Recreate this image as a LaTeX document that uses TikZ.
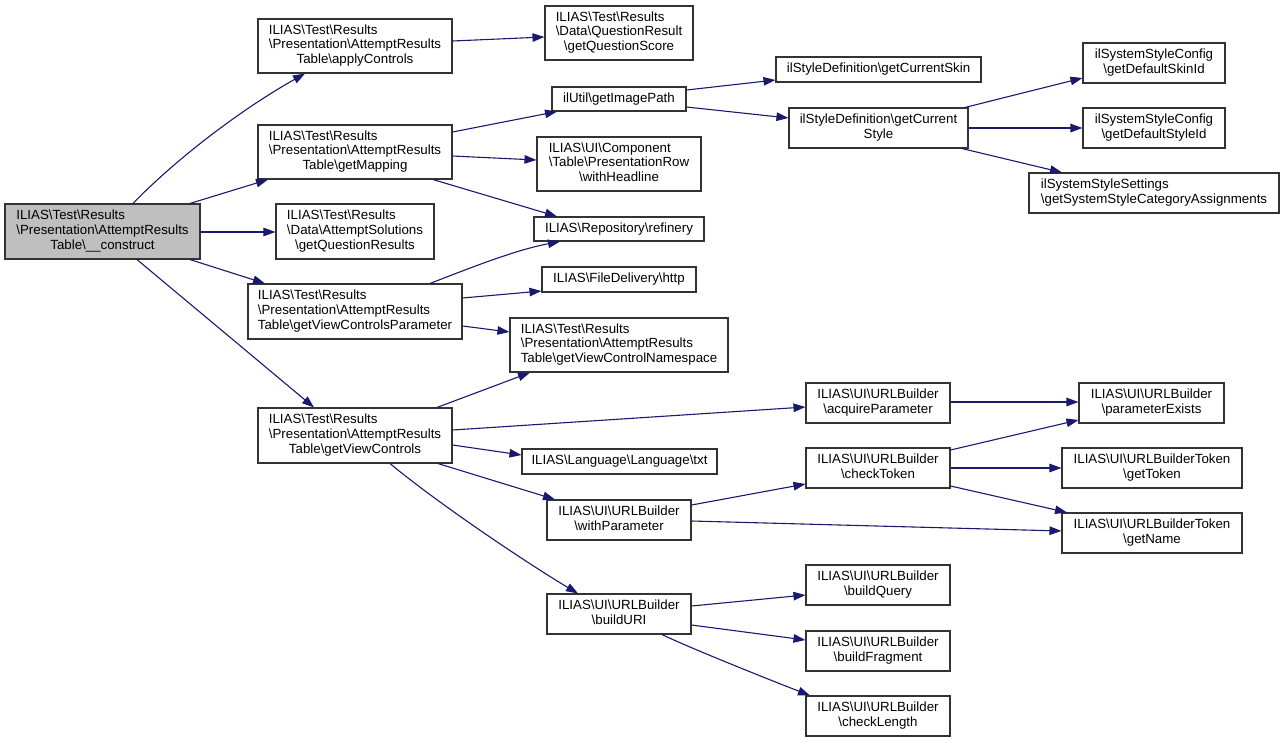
\documentclass[tikz,border=0pt]{standalone}
\usepackage{fontspec}
\setmainfont{Liberation Sans}
\usetikzlibrary{arrows.meta}
\definecolor{edgecol}{HTML}{191970}
\definecolor{boxcol}{HTML}{333333}
\definecolor{curfill}{HTML}{BFBFBF}
\newcommand\bs{\textbackslash}
\newcommand\lbl[2]{\begin{tabular}{@{}l@{}}#1\\\multicolumn{1}{@{}c@{}}{#2}\end{tabular}}
\renewcommand\arraystretch{1}
\begin{document}
\begin{tikzpicture}[x=1pt,y=-1pt,
  box/.style={draw=boxcol,line width=1.1pt,fill=white,inner sep=0pt,anchor=center,
    font=\fontsize{13.3}{14.8}\selectfont},
  e/.style={draw=edgecol,line width=1.1pt,-{Triangle[length=12pt,width=8.5pt]}}]
\useasboundingbox[fill=white] (0,0) rectangle (1281,742);
% column 0
\node[box,fill=curfill,minimum width=195pt,minimum height=55pt] (construct) at (102.5,231.5)
  {\lbl{ILIAS\bs Test\bs Results\\\bs Presentation\bs AttemptResults}{Table\bs\_\_construct}};
% column 1
\node[box,minimum width=194pt,minimum height=54pt] (applyControls) at (355,46)
  {\lbl{ILIAS\bs Test\bs Results\\\bs Presentation\bs AttemptResults}{Table\bs applyControls}};
\node[box,minimum width=194pt,minimum height=54pt] (getMapping) at (355,152)
  {\lbl{ILIAS\bs Test\bs Results\\\bs Presentation\bs AttemptResults}{Table\bs getMapping}};
\node[box,minimum width=158pt,minimum height=55pt] (getQuestionResults) at (355,231.5)
  {\lbl{ILIAS\bs Test\bs Results\\\bs Data\bs AttemptSolutions}{\bs getQuestionResults}};
\node[box,minimum width=214pt,minimum height=55pt] (getViewControlsParameter) at (355,311.5)
  {\lbl{ILIAS\bs Test\bs Results\\\bs Presentation\bs AttemptResults}{Table\bs getViewControlsParameter}};
\node[box,minimum width=194pt,minimum height=55pt] (getViewControls) at (355,435.5)
  {\lbl{ILIAS\bs Test\bs Results\\\bs Presentation\bs AttemptResults}{Table\bs getViewControls}};
% column 2
\node[box,minimum width=148pt,minimum height=54pt] (getQuestionScore) at (619,33)
  {\lbl{ILIAS\bs Test\bs Results\\\bs Data\bs QuestionResult}{\bs getQuestionScore}};
\node[box,minimum width=134pt,minimum height=24pt] (getImagePath) at (619,99)
  {ilUtil\bs getImagePath};
\node[box,minimum width=164pt,minimum height=54pt] (withHeadline) at (619,164)
  {\lbl{ILIAS\bs UI\bs Component\\\bs Table\bs PresentationRow}{\bs withHeadline}};
\node[box,minimum width=170pt,minimum height=24pt] (refinery) at (619,229)
  {ILIAS\bs Repository\bs refinery};
\node[box,minimum width=154pt,minimum height=25pt] (http) at (619,279.5)
  {ILIAS\bs FileDelivery\bs http};
\node[box,minimum width=218pt,minimum height=54pt] (getViewControlNamespace) at (619,345)
  {\lbl{ILIAS\bs Test\bs Results\\\bs Presentation\bs AttemptResults}{Table\bs getViewControlNamespace}};
\node[box,minimum width=195pt,minimum height=25pt] (txt) at (619.5,461.5)
  {ILIAS\bs Language\bs Language\bs txt};
\node[box,minimum width=144pt,minimum height=40pt] (withParameter) at (619,520)
  {\lbl{ILIAS\bs UI\bs URLBuilder}{\bs withParameter}};
\node[box,minimum width=144pt,minimum height=40pt] (buildURI) at (619,614)
  {\lbl{ILIAS\bs UI\bs URLBuilder}{\bs buildURI}};
% column 3
\node[box,minimum width=205pt,minimum height=25pt] (getCurrentSkin) at (878.5,69.5)
  {ilStyleDefinition\bs getCurrentSkin};
\node[box,minimum width=179pt,minimum height=40pt] (getCurrentStyle) at (878.5,128)
  {\lbl{ilStyleDefinition\bs getCurrent}{Style}};
\node[box,minimum width=144pt,minimum height=40pt] (acquireParameter) at (878,403)
  {\lbl{ILIAS\bs UI\bs URLBuilder}{\bs acquireParameter}};
\node[box,minimum width=144pt,minimum height=40pt] (checkToken) at (878,468)
  {\lbl{ILIAS\bs UI\bs URLBuilder}{\bs checkToken}};
\node[box,minimum width=144pt,minimum height=40pt] (buildQuery) at (878,585)
  {\lbl{ILIAS\bs UI\bs URLBuilder}{\bs buildQuery}};
\node[box,minimum width=144pt,minimum height=40pt] (buildFragment) at (878,651)
  {\lbl{ILIAS\bs UI\bs URLBuilder}{\bs buildFragment}};
\node[box,minimum width=144pt,minimum height=40pt] (checkLength) at (878,716)
  {\lbl{ILIAS\bs UI\bs URLBuilder}{\bs checkLength}};
% column 4
\node[box,minimum width=142pt,minimum height=40pt] (getDefaultSkinId) at (1154,63)
  {\lbl{ilSystemStyleConfig}{\bs getDefaultSkinId}};
\node[box,minimum width=142pt,minimum height=40pt] (getDefaultStyleId) at (1154,128)
  {\lbl{ilSystemStyleConfig}{\bs getDefaultStyleId}};
\node[box,minimum width=250pt,minimum height=40pt] (getSSCA) at (1154,193)
  {\lbl{ilSystemStyleSettings}{\bs getSystemStyleCategoryAssignments}};
\node[box,minimum width=145pt,minimum height=40pt] (parameterExists) at (1151.5,403)
  {\lbl{ILIAS\bs UI\bs URLBuilder}{\bs parameterExists}};
\node[box,minimum width=180pt,minimum height=40pt] (getToken) at (1152,468)
  {\lbl{ILIAS\bs UI\bs URLBuilderToken}{\bs getToken}};
\node[box,minimum width=180pt,minimum height=40pt] (getName) at (1152,533)
  {\lbl{ILIAS\bs UI\bs URLBuilderToken}{\bs getName}};
% edges
\draw[e] (construct.north -| 133,0) .. controls (175,160) and (240,110) .. (applyControls.south -| 305,0);
\draw[e] (construct.north -| 190,0) -- (getMapping.south -| 268,0);
\draw[e] (construct.east |- 0,232) -- (getQuestionResults.west |- 0,232);
\draw[e] (construct.south -| 190,0) -- (getViewControlsParameter.north -| 265,0);
\draw[e] (construct.south -| 137,0) -- (getViewControls.north -| 314,0);
\draw[e] (applyControls.east |- 0,41) -- (getQuestionScore.west |- 0,37);
\draw[e] (getMapping.east |- 0,132) -- (getImagePath.south -| 557,0);
\draw[e] (getMapping.east |- 0,156) -- (withHeadline.west |- 0,160);
\draw[e] (getMapping.south -| 433,0) -- (refinery.north -| 557,0);
\draw[e] (getViewControlsParameter.north -| 430,0) .. controls (470,268) and (515,250) .. (refinery.south -| 560,0);
\draw[e] (getViewControlsParameter.east |- 0,298) -- (http.west |- 0,291);
\draw[e] (getViewControlsParameter.east |- 0,326) -- (getViewControlNamespace.west |- 0,332);
\draw[e] (getViewControls.north -| 437,0) -- (getViewControlNamespace.south -| 530,0);
\draw[e] (getViewControls.east |- 0,430) -- (acquireParameter.west |- 0,407);
\draw[e] (getViewControls.east |- 0,445) -- (txt.west |- 0,455);
\draw[e] (getViewControls.south -| 438,0) -- (withParameter.north -| 555,0);
\draw[e] (getViewControls.south -| 390,0) .. controls (440,505) and (530,565) .. (buildURI.north -| 578,0);
\draw[e] (getImagePath.east |- 0,90) -- (getCurrentSkin.west |- 0,80);
\draw[e] (getImagePath.east |- 0,107) -- (getCurrentStyle.west |- 0,118);
\draw[e] (getCurrentStyle.north -| 965,0) -- (getDefaultSkinId.west |- 0,78);
\draw[e] (getCurrentStyle.east |- 0,128) -- (getDefaultStyleId.west |- 0,128);
\draw[e] (getCurrentStyle.south -| 962,0) -- (getSSCA.north -| 1062,0);
\draw[e] (acquireParameter.east |- 0,402) -- (parameterExists.west |- 0,402);
\draw[e] (checkToken.east |- 0,450) -- (parameterExists.west |- 0,420);
\draw[e] (checkToken.east |- 0,468) -- (getToken.west |- 0,468);
\draw[e] (checkToken.east |- 0,486) -- (getName.north -| 1067,0);
\draw[e] (withParameter.east |- 0,505) -- (checkToken.west |- 0,484);
\draw[e] (withParameter.east |- 0,521) -- (getName.west |- 0,531);
\draw[e] (buildURI.east |- 0,606) -- (buildQuery.west |- 0,595);
\draw[e] (buildURI.east |- 0,625) -- (buildFragment.west |- 0,640);
\draw[e] (buildURI.south -| 662,0) .. controls (690,648) and (770,680) .. (checkLength.north -| 810,0);
\end{tikzpicture}
\end{document}
